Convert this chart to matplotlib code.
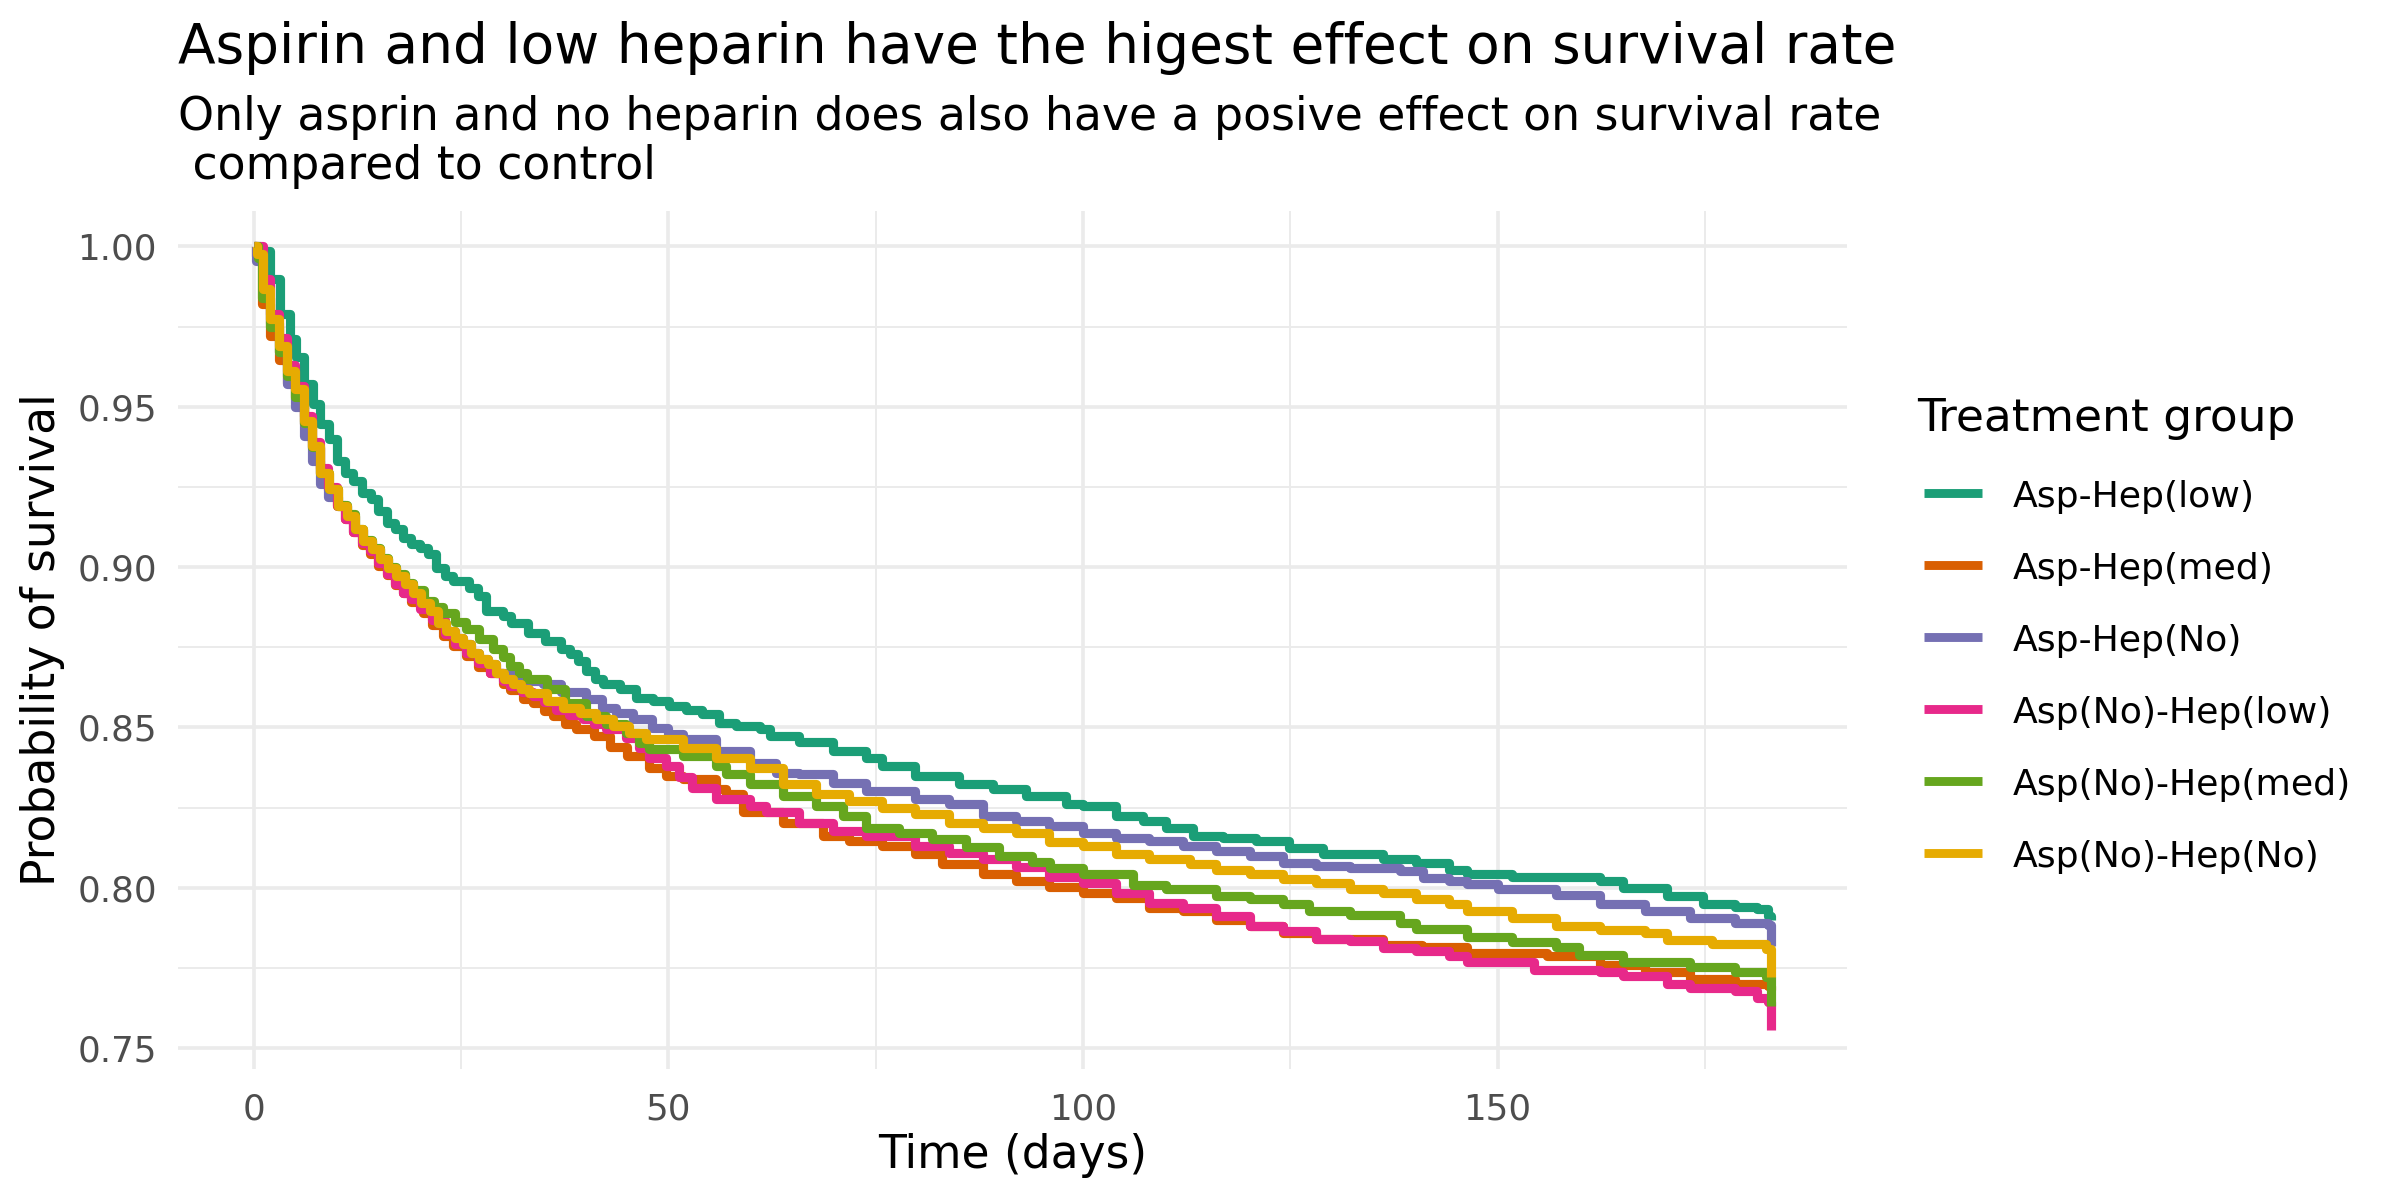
import numpy as np
import matplotlib
matplotlib.use("Agg")
import matplotlib.pyplot as plt
from matplotlib.lines import Line2D
from matplotlib.ticker import MultipleLocator

# =========================
# DATA (Kaplan-Meier step curves)
# =========================
groups = ["Asp-Hep(low)", "Asp-Hep(med)", "Asp-Hep(No)",
          "Asp(No)-Hep(low)", "Asp(No)-Hep(med)", "Asp(No)-Hep(No)"]
colors = ["#1B9E77", "#D95F02", "#7570B3", "#E7298A", "#66A61E", "#E6AB02"]

# (time in days, survival probability)
asp_hep_low = [
    (0, 1.0), (0.8, 0.9985), (1.9, 0.9898), (3.1, 0.9789), (4.3, 0.9711),
    (5.1, 0.9654), (6.0, 0.9570), (7.1, 0.9508), (8.0, 0.9446), (9.1, 0.9399),
    (10.0, 0.9331), (11.0, 0.9295), (12.0, 0.9269), (13.0, 0.9232), (14.1, 0.9212),
    (15.0, 0.9175), (16.0, 0.9139), (17.0, 0.9118), (18.0, 0.9092), (19.0, 0.9071),
    (20.0, 0.9061), (21.0, 0.9040), (22.0, 0.8998), (23.0, 0.8972), (24.0, 0.8957),
    (26.0, 0.8936), (27.0, 0.8910), (28.0, 0.8863), (30.0, 0.8848), (31.0, 0.8827),
    (33.1, 0.8796), (35.1, 0.8770), (37.1, 0.8744), (38.1, 0.8728), (39.1, 0.8707),
    (40.1, 0.8676), (41.1, 0.8650), (42.1, 0.8634), (44.1, 0.8619), (46.1, 0.8593),
    (48.1, 0.8582), (50.1, 0.8567), (52.1, 0.8555), (54.1, 0.8541), (56.1, 0.8515),
    (58.2, 0.8504), (61.0, 0.8494), (62.2, 0.8473), (65.8, 0.8454), (69.8, 0.8426),
    (73.8, 0.8406), (75.8, 0.8380), (79.8, 0.8349), (85.0, 0.8325), (89.1, 0.8307),
    (93.1, 0.8286), (97.9, 0.8261), (100.0, 0.8255), (104.0, 0.8224), (107.2, 0.8208),
    (110.0, 0.8188), (113.3, 0.8161), (116.9, 0.8156), (120.9, 0.8146), (124.9, 0.8125),
    (128.9, 0.8104), (136.2, 0.8089), (140.2, 0.8078), (144.2, 0.8057), (146.3, 0.8044),
    (151.7, 0.8033), (162.4, 0.8022), (165.1, 0.8000), (170.5, 0.7973), (174.8, 0.7951),
    (178.6, 0.7940), (181.3, 0.7934), (182.6, 0.7912), (183.0, 0.7900),
]

asp_hep_med = [
    (0, 1.0), (0.3, 0.9970), (1.0, 0.9820), (2.0, 0.9720), (3.0, 0.9645),
    (4.0, 0.9575), (5.0, 0.9525), (6.0, 0.9445), (7.0, 0.9370), (8.0, 0.9290),
    (9.0, 0.9240), (10.0, 0.9190), (11.0, 0.9150), (12.0, 0.9110), (13.0, 0.9070),
    (14.0, 0.9040), (15.0, 0.9005), (16.0, 0.8975), (17.0, 0.8945), (18.0, 0.8920),
    (19.0, 0.8890), (20.4, 0.8857), (21.5, 0.8820), (22.8, 0.8784), (24.0, 0.8755),
    (25.6, 0.8722), (27.0, 0.8690), (28.5, 0.8670), (30.0, 0.8635), (30.9, 0.8617),
    (32.5, 0.8590), (33.7, 0.8577), (35.0, 0.8550), (36.1, 0.8535), (37.5, 0.8510),
    (38.9, 0.8494), (41.0, 0.8473), (43.0, 0.8440), (45.0, 0.8410), (47.7, 0.8375),
    (49.7, 0.8350), (51.7, 0.8338), (55.7, 0.8307), (57.0, 0.8292), (59.0, 0.8235),
    (63.8, 0.8203), (68.6, 0.8162), (71.8, 0.8146), (75.8, 0.8131), (79.8, 0.8105),
    (83.0, 0.8074), (87.9, 0.8043), (91.9, 0.8022), (95.9, 0.8003), (100.0, 0.7984),
    (104.0, 0.7969), (108.0, 0.7938), (112.1, 0.7927), (116.1, 0.7901), (120.1, 0.7880),
    (124.1, 0.7859), (128.1, 0.7839), (136.2, 0.7823), (140.9, 0.7814), (146.3, 0.7798),
    (156.0, 0.7787), (162.4, 0.7759), (167.8, 0.7737), (173.2, 0.7716), (178.6, 0.7699),
    (182.6, 0.7694), (183.0, 0.7680),
]

asp_hep_no = [
    (0, 1.0), (0.2, 0.9955), (1.1, 0.9880), (2.0, 0.9760), (3.0, 0.9670),
    (4.0, 0.9570), (5.0, 0.9500), (6.0, 0.9410), (7.0, 0.9330), (8.0, 0.9260),
    (9.0, 0.9220), (10.2, 0.9190), (11.2, 0.9160), (12.2, 0.9115), (13.2, 0.9080),
    (14.2, 0.9055), (15.2, 0.9024), (16.2, 0.8998), (17.2, 0.8972), (18.2, 0.8946),
    (19.2, 0.8920), (20.2, 0.8889), (21.2, 0.8863), (22.2, 0.8827), (23.2, 0.8801),
    (24.2, 0.8780), (25.2, 0.8759), (26.2, 0.8733), (27.2, 0.8712), (28.2, 0.8697),
    (29.2, 0.8671), (31.0, 0.8655), (33.0, 0.8645), (34.9, 0.8635), (37.0, 0.8610),
    (40.1, 0.8588), (42.0, 0.8560), (43.7, 0.8546), (45.7, 0.8526), (48.0, 0.8499),
    (50.0, 0.8480), (51.7, 0.8463), (55.7, 0.8426), (59.8, 0.8390), (63.0, 0.8359),
    (65.8, 0.8354), (69.8, 0.8328), (73.8, 0.8302), (79.8, 0.8276), (83.9, 0.8261),
    (87.9, 0.8224), (91.9, 0.8209), (95.9, 0.8193), (100.0, 0.8172), (104.0, 0.8156),
    (108.0, 0.8146), (112.1, 0.8130), (116.1, 0.8115), (120.1, 0.8099), (124.1, 0.8078),
    (128.1, 0.8068), (132.2, 0.8063), (138.2, 0.8052), (141.0, 0.8031), (144.2, 0.8021),
    (146.3, 0.8011), (150.1, 0.7995), (157.1, 0.7978), (162.4, 0.7951), (167.8, 0.7929),
    (173.2, 0.7907), (178.6, 0.7891), (182.6, 0.7885), (183.0, 0.7819),
]

aspno_hep_low = [
    (0, 1.0), (1.1, 0.9897), (2.0, 0.9790), (3.0, 0.9715), (4.0, 0.9630),
    (5.0, 0.9565), (6.0, 0.9470), (7.0, 0.9390), (8.0, 0.9310), (9.0, 0.9250),
    (10.0, 0.9195), (11.0, 0.9150), (12.0, 0.9110), (13.0, 0.9075), (14.0, 0.9050),
    (15.0, 0.9014), (16.0, 0.8978), (17.0, 0.8947), (18.0, 0.8920), (19.0, 0.8900),
    (20.0, 0.8868), (21.5, 0.8835), (23.0, 0.8790), (24.3, 0.8760), (25.6, 0.8733),
    (27.0, 0.8700), (28.5, 0.8670), (30.0, 0.8645), (30.9, 0.8629), (32.3, 0.8610),
    (33.7, 0.8597), (35.0, 0.8580), (36.5, 0.8556), (38.0, 0.8540), (39.7, 0.8525),
    (41.0, 0.8510), (42.5, 0.8494), (44.9, 0.8468), (46.5, 0.8435), (47.7, 0.8406),
    (49.7, 0.8380), (51.3, 0.8345), (52.9, 0.8312), (55.7, 0.8276), (59.8, 0.8255),
    (61.8, 0.8235), (65.8, 0.8203), (69.8, 0.8178), (73.8, 0.8162), (79.8, 0.8131),
    (83.9, 0.8110), (87.9, 0.8089), (91.9, 0.8064), (95.9, 0.8035), (100.0, 0.8015),
    (104.0, 0.7984), (108.0, 0.7953), (112.1, 0.7938), (116.1, 0.7911), (120.1, 0.7880),
    (124.1, 0.7865), (128.1, 0.7839), (132.2, 0.7833), (136.2, 0.7813), (140.2, 0.7802),
    (144.2, 0.7786), (146.3, 0.7770), (154.4, 0.7743), (162.4, 0.7737), (165.1, 0.7726),
    (170.5, 0.7699), (173.2, 0.7688), (178.6, 0.7677), (181.3, 0.7655), (182.6, 0.7644),
    (183.0, 0.7557),
]

aspno_hep_med = [
    (0, 1.0), (0.5, 0.9965), (1.0, 0.9840), (2.0, 0.9750), (3.0, 0.9670),
    (4.0, 0.9595), (5.0, 0.9530), (6.0, 0.9450), (7.0, 0.9375), (8.0, 0.9295),
    (9.1, 0.9245), (10.2, 0.9195), (11.2, 0.9165), (12.2, 0.9120), (13.2, 0.9085),
    (14.2, 0.9060), (15.2, 0.9028), (16.2, 0.9000), (17.2, 0.8978), (18.2, 0.8952),
    (19.2, 0.8928), (20.5, 0.8895), (21.7, 0.8875), (22.8, 0.8858), (24.2, 0.8830),
    (25.6, 0.8806), (27.2, 0.8775), (28.9, 0.8744), (30.0, 0.8720), (30.9, 0.8692),
    (32.0, 0.8670), (32.9, 0.8650), (35.3, 0.8619), (37.5, 0.8575), (40.1, 0.8535),
    (42.5, 0.8510), (44.9, 0.8483), (46.5, 0.8450), (47.7, 0.8432), (51.7, 0.8411),
    (55.7, 0.8380), (57.0, 0.8354), (59.8, 0.8323), (63.8, 0.8286), (67.8, 0.8255),
    (71.0, 0.8224), (73.8, 0.8188), (77.8, 0.8172), (81.8, 0.8152), (85.9, 0.8126),
    (89.9, 0.8100), (93.9, 0.8079), (96.0, 0.8063), (100.0, 0.8042), (106.0, 0.8010),
    (110.0, 0.7995), (116.1, 0.7974), (120.1, 0.7964), (124.1, 0.7948), (127.3, 0.7927),
    (132.2, 0.7915), (138.2, 0.7890), (140.2, 0.7870), (146.3, 0.7847), (151.7, 0.7830),
    (157.1, 0.7814), (159.8, 0.7792), (165.1, 0.7770), (173.2, 0.7754), (178.6, 0.7737),
    (182.4, 0.7721), (183.0, 0.7633),
]

aspno_hep_no = [
    (0, 1.0), (0.4, 0.9976), (1.1, 0.9867), (2.0, 0.9775), (3.0, 0.9690),
    (4.0, 0.9612), (5.0, 0.9555), (6.0, 0.9456), (7.0, 0.9378), (8.0, 0.9295),
    (9.1, 0.9243), (10.2, 0.9191), (11.2, 0.9160), (12.2, 0.9118), (13.2, 0.9082),
    (14.2, 0.9056), (15.2, 0.9024), (16.2, 0.8998), (17.2, 0.8972), (18.2, 0.8946),
    (19.2, 0.8920), (20.2, 0.8889), (21.2, 0.8863), (22.2, 0.8827), (23.2, 0.8801),
    (24.2, 0.8780), (25.2, 0.8759), (26.2, 0.8733), (27.2, 0.8712), (28.2, 0.8697),
    (29.2, 0.8671), (30.2, 0.8650), (31.2, 0.8634), (32.2, 0.8619), (33.2, 0.8608),
    (35.3, 0.8582), (37.3, 0.8562), (39.3, 0.8546), (41.3, 0.8525), (43.3, 0.8504),
    (45.3, 0.8484), (47.3, 0.8463), (51.7, 0.8437), (55.7, 0.8406), (59.8, 0.8375),
    (63.8, 0.8323), (67.8, 0.8292), (71.8, 0.8271), (75.8, 0.8250), (79.8, 0.8229),
    (83.9, 0.8203), (87.9, 0.8188), (91.9, 0.8172), (95.9, 0.8144), (100.0, 0.8130),
    (104.0, 0.8104), (108.0, 0.8089), (112.9, 0.8073), (116.1, 0.8057), (120.1, 0.8042),
    (124.1, 0.8026), (128.1, 0.8016), (132.2, 0.7995), (136.2, 0.7984), (140.2, 0.7964),
    (144.2, 0.7948), (146.3, 0.7929), (151.7, 0.7907), (157.1, 0.7880), (162.4, 0.7869),
    (167.8, 0.7858), (170.5, 0.7836), (175.9, 0.7825), (182.4, 0.7809), (183.0, 0.7721),
]

curves = [asp_hep_low, asp_hep_med, asp_hep_no,
          aspno_hep_low, aspno_hep_med, aspno_hep_no]

title = "Aspirin and low heparin have the higest effect on survival rate"
subtitle_1 = "Only asprin and no heparin does also have a posive effect on survival rate"
subtitle_2 = " compared to control"

# =========================
# PLOT
# =========================
W, H = 2400, 1200
DPI = 200
fig = plt.figure(figsize=(W / DPI, H / DPI), dpi=DPI, facecolor="white")
renderer = fig.canvas.get_renderer()


def fit_width(txt, target_px):
    # rescale a text so its rendered width matches the reference
    w = txt.get_window_extent(renderer=renderer).width
    txt.set_fontsize(txt.get_fontsize() * target_px / w)
    return txt.get_fontsize()


# panel in pixel coords (left, top, right, bottom)
pl, pt, pr, pb = 178, 210.5, 1847, 1069
ax = fig.add_axes([pl / W, 1 - pb / H, (pr - pl) / W, (pb - pt) / H])

for name, col, pts in zip(groups, colors, curves):
    t = np.array([p[0] for p in pts])
    s = np.array([p[1] for p in pts])
    ax.plot(t, s, drawstyle="steps-post", color=col, lw=3.3,
            solid_joinstyle="round", solid_capstyle="butt", label=name)

# ggplot style expansion
ax.set_xlim(-9.15, 192.15)
ax.set_ylim(0.7435, 1.0112)

ax.xaxis.set_minor_locator(MultipleLocator(25))
ax.yaxis.set_minor_locator(MultipleLocator(0.025))
ax.set_yticks([0.75, 0.80, 0.85, 0.90, 0.95, 1.00])
ax.set_yticklabels(["0.75", "0.80", "0.85", "0.90", "0.95", "1.00"])
ax.set_xticks([0, 50, 100, 150])
ax.set_xticklabels(["0", "50", "100", "150"])

ax.grid(which="major", color="#EBEBEB", lw=1.3)
ax.grid(which="minor", color="#EBEBEB", lw=0.7)
ax.set_axisbelow(True)
for sp in ax.spines.values():
    sp.set_visible(False)
ax.tick_params(which="both", length=0)

# tick label size from the width of "1.00" (~80 px in the reference)
probe = fig.text(0, 0, "1.00", fontsize=12)
tick_fs = fit_width(probe, 80)
probe.remove()
ax.tick_params(axis="y", pad=7.6, labelsize=tick_fs, labelcolor="#4D4D4D")
ax.tick_params(axis="x", pad=8.5, labelsize=tick_fs, labelcolor="#4D4D4D")

# axis titles
xt = fig.text(1012.5 / W, 1 - 1168 / H, "Time (days)", fontsize=16,
              ha="center", va="baseline")
ax_fs = fit_width(xt, 269.5)
fig.text(20 / W, 1 - 640 / H, "Probability of survival", fontsize=ax_fs,
         rotation=90, ha="left", va="center")

# title + subtitle
t1 = fig.text(178 / W, 1 - 63 / H, title, fontsize=19.5, ha="left", va="baseline")
fit_width(t1, 1717)
s1 = fig.text(178 / W, 1 - 130 / H, subtitle_1, fontsize=15, ha="left", va="baseline")
sub_fs = fit_width(s1, 1705)
fig.text(178 / W, 1 - 179 / H, subtitle_2, fontsize=sub_fs, ha="left", va="baseline")

# legend (placed by hand to match ggplot)
lt = fig.text(1917 / W, 1 - 431 / H, "Treatment group", fontsize=16,
              ha="left", va="baseline")
fit_width(lt, 379)
key_y = [493, 565, 637, 709, 781, 853]
leg_texts = []
for name, col, ky in zip(groups, colors, key_y):
    fig.add_artist(Line2D([1924 / W, 1981.5 / W], [1 - ky / H, 1 - ky / H],
                          color=col, lw=3.2, solid_capstyle="butt"))
    leg_texts.append(fig.text(2013 / W, 1 - ky / H, name, fontsize=12.8,
                              ha="left", va="center_baseline"))
leg_fs = fit_width(leg_texts[4], 338.6)
for lt_ in leg_texts:
    lt_.set_fontsize(leg_fs)

fig.savefig("out.png", dpi=DPI, facecolor="white")
